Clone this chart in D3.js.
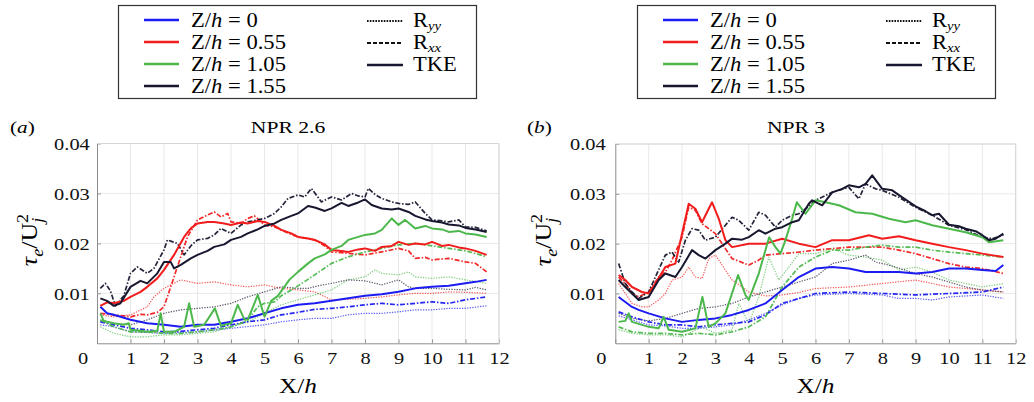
<!DOCTYPE html>
<html>
<head>
<meta charset="utf-8">
<script src="https://cdn.jsdelivr.net/npm/d3@7"></script>
<style>
  body { margin: 0; background: #fff; }
  svg { display: block; }
  svg text { font-family: 'Liberation Serif', 'Times New Roman', serif; }
</style>
</head>
<body>
<svg id="chart" width="1034" height="402"></svg>
<script>
// ---------------------------------------------------------------
// Normalised shear stress tau_e / Uj^2 along X/h, three measures
// (TKE, Rxx, Ryy) at four spanwise stations Z/h, for two NPRs.
// Each series: [X/h, value]
// ---------------------------------------------------------------
const zStations = ["0", "0.55", "1.05", "1.55"];
const measures = ["Ryy", "Rxx", "TKE"];
const xTicks = [0, 1, 2, 3, 4, 5, 6, 7, 8, 9, 10, 11, 12];
const yTicks = [0.01, 0.02, 0.03, 0.04];
const panelTitles = ["NPR 2.6", "NPR 3"];
const panelTags = ["a", "b"];

// ---- NPR 2.6 ----
const npr26_tke_z155 = [[0.1,0.009],[0.3,0.0085],[0.5,0.0075],[0.7,0.008],[1,0.0113],[1.3,0.0125],[1.5,0.012],[1.8,0.014],[2,0.0163],[2.2,0.0163],[2.3,0.015],[2.5,0.0157],[2.8,0.017],[3,0.0177],[3.3,0.0185],[3.5,0.0193],[3.8,0.0198],[4,0.0207],[4.3,0.0213],[4.5,0.022],[4.8,0.0228],[5,0.0235],[5.3,0.024],[5.5,0.0247],[5.8,0.0255],[6,0.026],[6.3,0.0275],[6.5,0.0272],[6.8,0.0265],[7,0.027],[7.3,0.0281],[7.5,0.0275],[7.8,0.0282],[8,0.0288],[8.2,0.0277],[8.5,0.027],[8.8,0.0268],[9,0.027],[9.3,0.0263],[9.5,0.0255],[9.8,0.0248],[10,0.0245],[10.3,0.0242],[10.5,0.0238],[10.8,0.0236],[11,0.0231],[11.3,0.0228],[11.63,0.0223]];
const npr26_rxx_z155 = [[0.1,0.011],[0.25,0.012],[0.4,0.0105],[0.55,0.0075],[0.8,0.0095],[1,0.014],[1.2,0.0153],[1.5,0.014],[1.7,0.015],[2,0.0187],[2.1,0.0207],[2.4,0.02],[2.6,0.0177],[2.8,0.0195],[3,0.0207],[3.3,0.021],[3.5,0.0217],[3.7,0.023],[4,0.022],[4.3,0.0237],[4.5,0.0243],[4.8,0.0247],[5,0.025],[5.3,0.026],[5.5,0.0273],[5.7,0.029],[6,0.0297],[6.2,0.0293],[6.4,0.031],[6.7,0.0283],[7,0.0293],[7.3,0.0287],[7.6,0.03],[7.8,0.0295],[8,0.0293],[8.1,0.031],[8.3,0.0298],[8.5,0.029],[8.8,0.0283],[9,0.028],[9.3,0.0278],[9.5,0.0283],[9.8,0.026],[10,0.0247],[10.3,0.0245],[10.5,0.0243],[10.8,0.0247],[11,0.0233],[11.3,0.0232],[11.63,0.0225]];
const npr26_ryy_z155 = [[0.1,0.0045],[0.5,0.004],[1,0.0037],[1.5,0.0047],[2,0.006],[2.5,0.0067],[3,0.007],[3.5,0.0073],[4,0.008],[4.5,0.0093],[5,0.0103],[5.5,0.0113],[6,0.011],[6.3,0.011],[6.6,0.0115],[7,0.012],[7.5,0.0127],[8,0.0125],[8.5,0.0117],[9,0.0127],[9.3,0.0113],[9.5,0.011],[10,0.011],[10.5,0.0108],[11,0.0107],[11.3,0.0112],[11.63,0.0107]];

const npr26_tke_z055 = [[0.1,0.0075],[0.3,0.0082],[0.5,0.008],[0.8,0.0085],[1,0.0093],[1.3,0.0103],[1.5,0.0113],[1.8,0.013],[2,0.0147],[2.3,0.0177],[2.6,0.0213],[2.8,0.023],[3,0.024],[3.3,0.0243],[3.5,0.0243],[3.8,0.024],[4,0.0237],[4.3,0.0242],[4.5,0.024],[4.8,0.0245],[5,0.0243],[5.3,0.0235],[5.5,0.0227],[5.8,0.022],[6,0.0213],[6.3,0.021],[6.5,0.0207],[6.8,0.0198],[7,0.0187],[7.3,0.0185],[7.5,0.0183],[7.8,0.0188],[8,0.019],[8.3,0.0185],[8.5,0.0193],[8.8,0.0195],[9,0.0203],[9.3,0.0197],[9.5,0.02],[9.8,0.0198],[10,0.0203],[10.3,0.0195],[10.5,0.0197],[10.8,0.0192],[11,0.019],[11.3,0.0185],[11.63,0.0177]];
const npr26_rxx_z055 = [[0.1,0.006],[0.5,0.0057],[0.8,0.0055],[1,0.0053],[1.3,0.0058],[1.5,0.0057],[1.8,0.0062],[2,0.0073],[2.2,0.0113],[2.5,0.0173],[2.7,0.0213],[3,0.0247],[3.3,0.0257],[3.5,0.0263],[3.7,0.0253],[3.9,0.026],[4,0.0243],[4.3,0.024],[4.5,0.025],[4.7,0.0255],[5,0.0237],[5.3,0.0233],[5.5,0.0227],[5.8,0.0218],[6,0.0213],[6.3,0.021],[6.5,0.0207],[6.8,0.0195],[7,0.0183],[7.5,0.018],[8,0.0177],[8.5,0.0183],[9,0.019],[9.3,0.0185],[9.5,0.017],[9.8,0.0172],[10,0.0167],[10.5,0.017],[11,0.0163],[11.3,0.016],[11.63,0.0143]];
const npr26_ryy_z055 = [[0.1,0.0057],[0.5,0.0053],[1,0.0057],[1.5,0.0073],[1.7,0.0093],[2,0.011],[2.5,0.0127],[3,0.012],[3.5,0.0123],[4,0.0117],[4.5,0.0113],[5,0.0117],[5.5,0.011],[6,0.0107],[6.5,0.0103],[7,0.0087],[7.5,0.0088],[8,0.009],[8.5,0.0093],[9,0.0097],[9.5,0.01],[10,0.01],[10.5,0.0103],[11,0.0102],[11.63,0.01]];

const npr26_tke_z105 = [[0.1,0.006],[0.2,0.0045],[0.3,0.0043],[0.5,0.004],[0.8,0.0037],[0.95,0.004],[1,0.0027],[1.3,0.0025],[1.5,0.0023],[1.8,0.0025],[1.9,0.006],[2,0.0023],[2.3,0.0023],[2.6,0.0033],[2.75,0.008],[2.9,0.0033],[3.2,0.0037],[3.52,0.007],[3.7,0.0035],[4,0.004],[4.2,0.0077],[4.4,0.0048],[4.5,0.0047],[4.8,0.0097],[5,0.0053],[5.2,0.0085],[5.4,0.0095],[5.74,0.0127],[6,0.0143],[6.3,0.016],[6.5,0.017],[6.8,0.0178],[7,0.0187],[7.3,0.0195],[7.5,0.0207],[7.8,0.0213],[8,0.0217],[8.3,0.022],[8.5,0.0227],[8.8,0.025],[9,0.0237],[9.2,0.0247],[9.5,0.023],[9.8,0.0235],[10,0.023],[10.3,0.0228],[10.5,0.0223],[10.8,0.0225],[11,0.022],[11.3,0.0218],[11.63,0.0213]];
const npr26_rxx_z105 = [[0.1,0.0047],[0.3,0.004],[0.5,0.0033],[1,0.0023],[1.5,0.0023],[2,0.002],[2.5,0.002],[3,0.0023],[3.5,0.0027],[4,0.0033],[4.3,0.004],[4.5,0.0047],[4.8,0.0073],[5,0.008],[5.3,0.0083],[5.5,0.0095],[6,0.0115],[6.5,0.0137],[7,0.016],[7.5,0.0173],[8,0.0183],[8.5,0.019],[9,0.0197],[9.5,0.02],[10,0.0195],[10.5,0.019],[11,0.0185],[11.3,0.018],[11.63,0.0173]];
const npr26_ryy_z105 = [[0.1,0.0033],[0.5,0.002],[1,0.0013],[1.5,0.0013],[2,0.0017],[2.5,0.0017],[3,0.002],[3.5,0.0023],[4,0.0033],[4.5,0.0043],[5,0.006],[5.5,0.0077],[6,0.0087],[6.5,0.0097],[7,0.0107],[7.5,0.0127],[8,0.0133],[8.3,0.0147],[8.5,0.014],[9,0.0137],[9.3,0.0143],[9.5,0.0133],[10,0.013],[10.5,0.0133],[11,0.0127],[11.63,0.012]];

const npr26_tke_z0 = [[0.1,0.0073],[0.3,0.006],[0.5,0.0057],[1,0.0047],[1.5,0.004],[2,0.0037],[2.5,0.0033],[3,0.0037],[3.5,0.0037],[4,0.0043],[4.5,0.005],[5,0.006],[5.5,0.007],[6,0.0077],[6.5,0.008],[7,0.0085],[7.5,0.009],[8,0.0095],[8.5,0.0098],[9,0.0103],[9.5,0.011],[10,0.0113],[10.5,0.0115],[11,0.012],[11.3,0.0123],[11.63,0.0127]];
const npr26_rxx_z0 = [[0.1,0.0043],[0.5,0.0037],[1,0.003],[1.5,0.0027],[2,0.0023],[2.5,0.0024],[3,0.0027],[3.5,0.003],[4,0.0037],[4.5,0.0043],[5,0.0047],[5.5,0.0057],[6,0.0062],[6.5,0.0068],[7,0.007],[7.5,0.0073],[8,0.0077],[8.5,0.008],[9,0.0077],[9.5,0.008],[10,0.0083],[10.5,0.008],[11,0.0087],[11.63,0.0093]];
const npr26_ryy_z0 = [[0.1,0.0037],[0.5,0.0033],[1,0.0023],[2,0.002],[3,0.0023],[4,0.003],[5,0.0037],[5.5,0.0043],[6,0.0047],[6.5,0.005],[7,0.005],[7.5,0.0057],[8,0.006],[8.5,0.006],[9,0.0063],[9.5,0.0067],[10,0.0067],[10.5,0.007],[11,0.007],[11.63,0.0075]];

// ---- NPR 3 ----
const npr3_tke_z155 = [[0.1,0.0127],[0.3,0.0113],[0.5,0.01],[0.7,0.0087],[1,0.0093],[1.3,0.0127],[1.5,0.014],[1.8,0.0133],[2,0.0153],[2.3,0.0187],[2.5,0.0177],[2.7,0.017],[3,0.0187],[3.3,0.02],[3.5,0.021],[3.8,0.0208],[4,0.0213],[4.3,0.0227],[4.5,0.022],[4.8,0.023],[5,0.0233],[5.3,0.0243],[5.5,0.0247],[5.8,0.028],[5.9,0.0287],[6.2,0.0277],[6.5,0.0303],[6.8,0.031],[7,0.0317],[7.3,0.0313],[7.5,0.032],[7.7,0.0337],[8,0.031],[8.3,0.0307],[8.6,0.0293],[9,0.0275],[9.3,0.0265],[9.5,0.0257],[9.7,0.026],[10,0.0238],[10.3,0.0235],[10.5,0.023],[10.8,0.0225],[11,0.0217],[11.2,0.0207],[11.4,0.021],[11.63,0.022]];
const npr3_rxx_z155 = [[0.1,0.016],[0.3,0.012],[0.5,0.0103],[0.7,0.009],[1,0.0103],[1.2,0.0133],[1.5,0.0177],[1.7,0.0183],[1.9,0.0163],[2.1,0.0207],[2.3,0.023],[2.5,0.0227],[2.7,0.0207],[3,0.0213],[3.3,0.0237],[3.5,0.0253],[3.7,0.0247],[4,0.0227],[4.3,0.0263],[4.5,0.0257],[4.8,0.0233],[5,0.0247],[5.3,0.0257],[5.5,0.026],[5.8,0.0275],[6,0.0287],[6.5,0.0303],[7,0.0313],[7.3,0.029],[7.5,0.032],[7.8,0.031],[8,0.0307],[8.5,0.0293],[9,0.0273],[9.5,0.0257],[10,0.0237],[10.5,0.0228],[11,0.0213],[11.3,0.021],[11.63,0.0217]];
const npr3_ryy_z155 = [[0.1,0.006],[0.5,0.005],[1,0.0045],[1.5,0.005],[2,0.006],[2.5,0.007],[3,0.0073],[3.5,0.008],[4,0.0093],[4.5,0.0103],[5,0.0113],[5.5,0.0123],[6,0.0133],[6.5,0.016],[7,0.0167],[7.5,0.0177],[7.8,0.0163],[8.2,0.0157],[8.4,0.0153],[9,0.014],[9.5,0.0133],[10,0.0123],[10.5,0.0113],[11,0.0107],[11.63,0.0103]];

const npr3_tke_z055 = [[0.1,0.0137],[0.3,0.0127],[0.5,0.0113],[0.8,0.0103],[1,0.01],[1.2,0.012],[1.5,0.0153],[1.8,0.016],[2,0.022],[2.2,0.028],[2.4,0.027],[2.6,0.0243],[2.8,0.027],[2.9,0.0283],[3.1,0.025],[3.3,0.0207],[3.5,0.0193],[4,0.02],[4.5,0.02],[5,0.021],[5.5,0.02],[6,0.0193],[6.5,0.0207],[7,0.0207],[7.6,0.0217],[8,0.021],[8.5,0.0215],[9,0.0207],[9.5,0.02],[10,0.0193],[10.5,0.0187],[11,0.018],[11.63,0.0173]];
const npr3_rxx_z055 = [[0.1,0.0133],[0.3,0.012],[0.5,0.01],[0.7,0.0093],[1,0.0103],[1.3,0.0133],[1.5,0.0143],[1.7,0.0167],[2,0.0213],[2.2,0.0273],[2.4,0.0267],[2.6,0.024],[3,0.022],[3.3,0.019],[3.5,0.017],[4,0.0157],[4.3,0.0167],[4.5,0.0177],[5,0.018],[5.5,0.0183],[6,0.0187],[7,0.0193],[8,0.0193],[8.5,0.0187],[9,0.018],[9.5,0.017],[10,0.016],[10.5,0.0153],[11,0.015],[11.63,0.014]];
const npr3_ryy_z055 = [[0.1,0.012],[0.5,0.008],[0.8,0.0073],[1,0.0073],[1.3,0.0087],[1.5,0.01],[1.7,0.0127],[2,0.0133],[2.2,0.0153],[2.4,0.0133],[2.6,0.013],[2.8,0.017],[3,0.0177],[3.3,0.0147],[3.5,0.0127],[3.8,0.0113],[4,0.0103],[4.5,0.0095],[5,0.0097],[5.5,0.0102],[6,0.011],[7,0.0113],[8,0.012],[9,0.0127],[9.5,0.012],[10,0.0113],[11,0.0107],[11.63,0.0103]];

const npr3_tke_z105 = [[0.1,0.0043],[0.3,0.0045],[0.4,0.006],[0.5,0.0043],[1,0.0033],[1.3,0.003],[1.45,0.0053],[1.6,0.0027],[2,0.0023],[2.4,0.003],[2.61,0.0093],[2.8,0.0033],[3,0.004],[3.3,0.006],[3.68,0.0137],[3.9,0.0097],[4,0.0087],[4.3,0.014],[4.61,0.0213],[4.8,0.0193],[4.95,0.018],[5.1,0.0207],[5.3,0.025],[5.44,0.0283],[5.7,0.026],[6,0.0287],[6.3,0.0283],[6.7,0.0277],[7.2,0.0263],[7.7,0.026],[8.2,0.025],[8.7,0.0243],[9,0.0247],[9.5,0.0237],[10,0.023],[10.5,0.0223],[11,0.0213],[11.2,0.0203],[11.63,0.0207]];
const npr3_rxx_z105 = [[0.1,0.0033],[0.5,0.0023],[1,0.002],[1.5,0.002],[2,0.0017],[2.5,0.002],[3,0.0017],[3.5,0.0023],[4,0.0033],[4.5,0.0053],[5,0.0113],[5.5,0.0153],[6,0.0173],[6.5,0.0187],[7,0.0187],[7.5,0.0193],[8,0.0197],[8.5,0.0193],[9,0.0193],[9.5,0.0187],[10,0.0183],[10.5,0.018],[11,0.0177],[11.63,0.0173]];
const npr3_ryy_z105 = [[0.1,0.0027],[0.5,0.002],[1,0.0017],[1.5,0.0017],[2,0.0013],[2.6,0.0033],[3,0.002],[3.5,0.0027],[3.7,0.008],[4,0.004],[4.3,0.0093],[4.6,0.0173],[4.9,0.0127],[5.2,0.0153],[5.5,0.018],[6,0.018],[6.5,0.019],[7,0.0177],[7.5,0.0173],[8,0.0167],[8.5,0.0147],[9,0.0153],[9.5,0.0143],[10,0.0127],[10.5,0.012],[11,0.0113],[11.63,0.012]];

const npr3_tke_z0 = [[0.1,0.0093],[0.3,0.0083],[0.5,0.0073],[0.7,0.0067],[1,0.006],[1.5,0.005],[2,0.0043],[2.5,0.0047],[3,0.005],[3.5,0.0057],[4,0.0067],[4.5,0.008],[5,0.0107],[5.5,0.0133],[6,0.015],[6.5,0.0153],[7,0.015],[7.5,0.0143],[8,0.0143],[8.5,0.0143],[9,0.014],[9.5,0.0143],[10,0.015],[10.5,0.015],[11,0.0147],[11.4,0.0145],[11.63,0.0157]];
const npr3_rxx_z0 = [[0.1,0.0063],[0.5,0.0053],[1,0.0043],[1.5,0.0037],[2,0.0037],[2.5,0.0033],[3,0.0037],[3.5,0.004],[4,0.0043],[4.5,0.0057],[5,0.008],[5.5,0.009],[6,0.01],[7,0.0103],[8,0.01],[9,0.0097],[10,0.01],[11,0.0103],[11.63,0.0113]];
const npr3_ryy_z0 = [[0.1,0.0055],[0.5,0.0047],[1,0.0037],[1.5,0.0035],[2,0.003],[2.5,0.003],[3,0.0033],[3.5,0.0037],[4,0.0047],[4.5,0.006],[5,0.0077],[5.5,0.009],[6,0.0097],[7,0.01],[8,0.0097],[8.5,0.009],[9,0.009],[9.5,0.0087],[10,0.0093],[11,0.0097],[11.63,0.009]];

// ---------------------------------------------------------------
const zColors = ["#1c1cf2", "#f21c1c", "#4cb84c", "#17172f"];
const lineStyles = {
  Ryy: { width: 1.2, dash: "1.3,1.3", opacity: 0.72 },
  Rxx: { width: 1.7, dash: "5,1.8,1.5,1.8", opacity: 0.95 },
  TKE: { width: 2.0, dash: null, opacity: 1 }
};

const panelSeries = [
  { Ryy: [npr26_ryy_z0, npr26_ryy_z055, npr26_ryy_z105, npr26_ryy_z155],
    Rxx: [npr26_rxx_z0, npr26_rxx_z055, npr26_rxx_z105, npr26_rxx_z155],
    TKE: [npr26_tke_z0, npr26_tke_z055, npr26_tke_z105, npr26_tke_z155] },
  { Ryy: [npr3_ryy_z0, npr3_ryy_z055, npr3_ryy_z105, npr3_ryy_z155],
    Rxx: [npr3_rxx_z0, npr3_rxx_z055, npr3_rxx_z105, npr3_rxx_z155],
    TKE: [npr3_tke_z0, npr3_tke_z055, npr3_tke_z105, npr3_tke_z155] }
];

// layout of the two panels
const panelLayout = [
  { x: [97, 499],   y: [343.3, 143.5], tagX: 10,  titleX: 288, yLabelX: 37,  legendX: 118, tickPad: 6 },
  { x: [615.3, 1015.7], y: [343.3, 144], tagX: 527, titleX: 796, yLabelX: 551, legendX: 637, tickPad: 8 }
];

const FONT = "'Liberation Serif', 'Times New Roman', serif";
const svg = d3.select("#chart");
const SX = 1.2;      // horizontal widening of the serif lettering

panelLayout.forEach((L, i) => {
  const g = svg.append("g");
  const x = d3.scaleLinear().domain([0, 12]).range(L.x);
  const y = d3.scaleLinear().domain([0, 0.04]).range(L.y);

  // grid
  g.append("g").selectAll("line").data(xTicks.slice(1)).join("line")
    .attr("x1", d => x(d)).attr("x2", d => x(d))
    .attr("y1", y(0)).attr("y2", y(0.04))
    .attr("stroke", "#e9e9e9").attr("stroke-width", 1);
  g.append("g").selectAll("line").data(yTicks).join("line")
    .attr("x1", x(0)).attr("x2", x(12))
    .attr("y1", d => y(d)).attr("y2", d => y(d))
    .attr("stroke", "#e9e9e9").attr("stroke-width", 1);

  // axes
  const xAxis = g.append("g").attr("transform", `translate(0,${y(0)})`)
    .call(d3.axisBottom(x).tickValues(xTicks).tickSize(-4).tickPadding(9).tickSizeOuter(0));
  const yAxis = g.append("g").attr("transform", `translate(${x(0)},0)`)
    .call(d3.axisLeft(y).tickValues(yTicks).tickSize(-4).tickPadding(L.tickPad)
      .tickFormat(d3.format(".2f")).tickSizeOuter(0));
  [xAxis, yAxis].forEach(a => {
    a.attr("font-family", null);
    a.select(".domain").attr("stroke", "#8c8c8c");
    a.selectAll(".tick line").attr("stroke", "#9a9a9a");
    a.selectAll("text").style("font-family", FONT)
      .attr("font-size", 17).attr("fill", "#111")
      .attr("transform", `scale(${SX},1)`);
  });
  xAxis.selectAll(".tick").filter(d => d === 0).select("text").attr("x", -12);
  yAxis.selectAll(".tick text").attr("dy", "0.34em");

  // light frame top and right
  g.append("path")
    .attr("d", `M${x(0)},${y(0.04)}H${x(12)}V${y(0)}`)
    .attr("fill", "none").attr("stroke", "#d6d6d6");

  // series
  const line = d3.line().x(d => x(d[0])).y(d => y(d[1]));
  measures.forEach(m => {
    const st = lineStyles[m];
    panelSeries[i][m].forEach((data, zi) => {
      g.append("path").datum(data)
        .attr("d", line)
        .attr("fill", "none")
        .attr("stroke", zColors[zi])
        .attr("stroke-width", st.width)
        .attr("stroke-opacity", st.opacity)
        .attr("stroke-dasharray", st.dash)
        .attr("stroke-linejoin", "round");
    });
  });

  // panel tag and title
  const tag = g.append("text").attr("transform", `translate(${L.tagX},133) scale(1.25,1)`)
    .attr("font-size", 17);
  tag.append("tspan").text("(");
  tag.append("tspan").attr("font-style", "italic").text(panelTags[i]);
  tag.append("tspan").text(")");
  g.append("text").attr("transform", `translate(${L.titleX},133) scale(1.27,1)`)
    .attr("font-size", 17).attr("text-anchor", "middle").text(panelTitles[i]);

  // x label
  const xl = g.append("text")
    .attr("transform", `translate(${(L.x[0] + L.x[1]) / 2},393) scale(1.15,1)`)
    .attr("font-size", 22).attr("text-anchor", "middle");
  xl.append("tspan").text("X/");
  xl.append("tspan").attr("font-style", "italic").text("h");

  // y label
  const yl = g.append("text")
    .attr("transform", `translate(${L.yLabelX},240) rotate(-90) scale(1.3,1.15)`)
    .attr("font-size", 20).attr("text-anchor", "middle");
  yl.append("tspan").attr("font-style", "italic").text("τ");
  yl.append("tspan").attr("font-style", "italic").attr("font-size", 14).attr("dy", 5).text("e");
  yl.append("tspan").attr("dy", -5).text("/U");
  yl.append("tspan").attr("font-style", "italic").attr("font-size", 14).attr("dy", 5).text("j");
  yl.append("tspan").attr("font-size", 14).attr("dx", -4).attr("dy", -13).text("2");

  // legend
  const lg = g.append("g").attr("transform", `translate(${L.legendX},0)`);
  lg.append("rect").attr("x", 0.5).attr("y", 5.5).attr("width", 358).attr("height", 93)
    .attr("fill", "#fff").attr("stroke", "#333").attr("stroke-width", 1.2);
  const rowY = [20, 42, 64, 86];
  zStations.forEach((z, zi) => {
    lg.append("line").attr("x1", 26).attr("x2", 61).attr("y1", rowY[zi]).attr("y2", rowY[zi])
      .attr("stroke", zColors[zi]).attr("stroke-width", 2.6);
    const t = lg.append("text").attr("transform", `translate(73,${rowY[zi] + 7}) scale(1.13,1)`)
      .attr("font-size", 20);
    t.append("tspan").text("Z/");
    t.append("tspan").attr("font-style", "italic").text("h");
    t.append("tspan").text(" = " + z);
  });
  const legMeasures = [
    { name: "R", sub: "yy", dash: "1.6,1.2", width: 2, color: "#111" },
    { name: "R", sub: "xx", dash: "4,2", width: 2.2, color: "#111" },
    { name: "TKE", sub: "", dash: null, width: 2.6, color: zColors[3] }
  ];
  legMeasures.forEach((d, k) => {
    lg.append("line").attr("x1", 249).attr("x2", 285).attr("y1", rowY[k] + 1).attr("y2", rowY[k] + 1)
      .attr("stroke", d.color).attr("stroke-width", d.width).attr("stroke-dasharray", d.dash);
    const t = lg.append("text").attr("transform", `translate(295,${rowY[k] + 7}) scale(1.13,1)`)
      .attr("font-size", 20);
    t.append("tspan").text(d.name);
    if (d.sub) t.append("tspan").attr("font-style", "italic").attr("font-size", 13).attr("dy", 3).text(d.sub);
  });
});
</script>
</body>
</html>
